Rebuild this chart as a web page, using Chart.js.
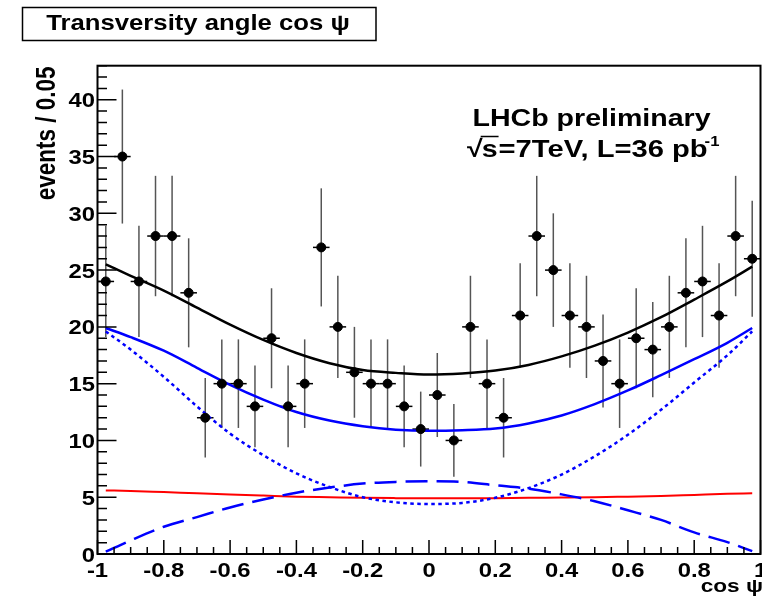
<!DOCTYPE html>
<html lang="en">
<head>
    <meta charset="UTF-8">
    <title>Transversity angle cos psi</title>
    <script src="https://cdn.jsdelivr.net/npm/chart.js"></script>
    <style>
        html, body { margin: 0; padding: 0; overflow: hidden; background: #fff; }
        canvas { display: block; }
    </style>
</head>
<body>
    <canvas id="psiChart" width="766" height="601"></canvas>

    <script>
        // Binned data: bin centres (width 0.05), event counts and their errors
        const binCenters = [-0.975, -0.925, -0.875, -0.825, -0.775, -0.725, -0.675, -0.625, -0.575, -0.525,
                            -0.475, -0.425, -0.375, -0.325, -0.275, -0.225, -0.175, -0.125, -0.075, -0.025,
                             0.025,  0.075,  0.125,  0.175,  0.225,  0.275,  0.325,  0.375,  0.425,  0.475,
                             0.525,  0.575,  0.625,  0.675,  0.725,  0.775,  0.825,  0.875,  0.925,  0.975];
        const counts = [24, 35, 24, 28, 28, 23, 12, 15, 15, 13,
                        19, 13, 15, 27, 20, 16, 15, 15, 13, 11,
                        14, 10, 20, 15, 12, 21, 28, 25, 21, 20,
                        17, 15, 19, 18, 20, 23, 24, 21, 28, 26];
        const countErrors = [4.9, 5.9, 4.9, 5.3, 5.3, 4.8, 3.5, 3.9, 3.9, 3.6,
                             4.4, 3.6, 3.9, 5.2, 4.5, 4.0, 3.9, 3.9, 3.6, 3.3,
                             3.7, 3.2, 4.5, 3.9, 3.5, 4.6, 5.3, 5.0, 4.6, 4.5,
                             4.1, 3.9, 4.4, 4.2, 4.5, 4.8, 4.9, 4.6, 5.3, 5.1];
        const binHalfWidth = 0.025;

        // Fit projections
        const curveX    = [-0.975, -0.9, -0.8, -0.7, -0.6, -0.5, -0.4, -0.3, -0.2, -0.1, 0, 0.1, 0.2, 0.3, 0.4, 0.5, 0.6, 0.7, 0.8, 0.9, 0.975];
        const totalFit  = [25.5, 24.5, 23.2, 21.7, 20.2, 18.85, 17.7, 16.8, 16.2, 15.95, 15.8, 15.9, 16.15, 16.65, 17.4, 18.35, 19.5, 20.85, 22.4, 24.0, 25.3];
        const signalFit = [19.9, 19.1, 17.9, 16.4, 14.9, 13.6, 12.5, 11.75, 11.25, 10.95, 10.85, 10.9, 11.05, 11.5, 12.2, 13.2, 14.4, 15.75, 17.15, 18.6, 19.9];
        const evenFit   = [19.6, 18.0, 15.6, 13.0, 10.6, 8.7, 7.1, 5.9, 5.0, 4.55, 4.4, 4.5, 4.95, 5.8, 7.0, 8.6, 10.5, 12.7, 15.1, 17.5, 19.6];
        const oddFit    = [0.2, 1.2, 2.4, 3.25, 4.1, 4.8, 5.4, 5.85, 6.2, 6.35, 6.4, 6.35, 6.05, 5.75, 5.25, 4.65, 3.85, 3.0, 1.9, 1.05, 0.25];
        const bkgFit    = [5.6, 5.55, 5.45, 5.35, 5.25, 5.15, 5.05, 5.0, 4.95, 4.92, 4.9, 4.9, 4.92, 4.95, 4.97, 5.0, 5.05, 5.1, 5.2, 5.3, 5.35];

        // Axis ticks and labels
        const xTickValues = [-1, -0.8, -0.6, -0.4, -0.2, 0, 0.2, 0.4, 0.6, 0.8, 1];
        const xTickLabels = ['-1', '-0.8', '-0.6', '-0.4', '-0.2', '0', '0.2', '0.4', '0.6', '0.8', '1'];
        const yTickValues = [0, 5, 10, 15, 20, 25, 30, 35, 40];
        const yTickLabels = ['0', '5', '10', '15', '20', '25', '30', '35', '40'];

        const FONT = '"Liberation Sans", Arial, Helvetica, sans-serif';
        const SX = 1.19; // text in the reference is stretched sideways

        function pairs(xs, ys) {
            return xs.map((x, i) => ({ x: x, y: ys[i] }));
        }

        function stretchedText(ctx, str, x, y, size, align) {
            ctx.save();
            ctx.translate(x, y);
            ctx.scale(SX, 1);
            ctx.font = 'bold ' + size + 'px ' + FONT;
            ctx.textAlign = align;
            ctx.textBaseline = 'alphabetic';
            ctx.fillText(str, 0, 0);
            ctx.restore();
        }

        function textWidth(ctx, str, size) {
            ctx.font = 'bold ' + size + 'px ' + FONT;
            return ctx.measureText(str).width * SX;
        }

        // Error bars under the markers
        const errorBarPlugin = {
            id: 'errorBars',
            beforeDatasetsDraw(chart) {
                const ctx = chart.ctx;
                const xs = chart.scales.x, ys = chart.scales.y;
                ctx.save();
                binCenters.forEach((c, i) => {
                    const px = xs.getPixelForValue(c);
                    const py = ys.getPixelForValue(counts[i]);
                    ctx.strokeStyle = '#555';
                    ctx.lineWidth = 1.5;
                    ctx.beginPath();
                    ctx.moveTo(px, ys.getPixelForValue(counts[i] + countErrors[i]));
                    ctx.lineTo(px, ys.getPixelForValue(counts[i] - countErrors[i]));
                    ctx.stroke();
                    ctx.strokeStyle = '#000';
                    ctx.beginPath();
                    ctx.moveTo(xs.getPixelForValue(c - binHalfWidth), py);
                    ctx.lineTo(xs.getPixelForValue(c + binHalfWidth), py);
                    ctx.stroke();
                });
                ctx.restore();
            }
        };

        // ROOT-like frame, inward ticks and all the text
        const framePlugin = {
            id: 'rootFrame',
            afterDraw(chart) {
                const ctx = chart.ctx;
                const area = chart.chartArea;
                const xs = chart.scales.x, ys = chart.scales.y;
                ctx.save();

                ctx.strokeStyle = '#000';
                ctx.lineWidth = 2;
                ctx.strokeRect(area.left, area.top, area.right - area.left, area.bottom - area.top);

                // y ticks
                ctx.lineWidth = 1.5;
                ctx.beginPath();
                for (let v = 0; v <= 43; v++) {
                    const py = ys.getPixelForValue(v);
                    const len = v % 5 === 0 ? 19 : 9.5;
                    ctx.moveTo(area.left, py);
                    ctx.lineTo(area.left + len, py);
                }
                // x ticks
                for (let k = -20; k <= 20; k++) {
                    const px = xs.getPixelForValue(k * 0.05);
                    const len = k % 4 === 0 ? 14 : 7;
                    ctx.moveTo(px, area.bottom);
                    ctx.lineTo(px, area.bottom - len);
                }
                ctx.stroke();

                ctx.fillStyle = '#000';
                yTickValues.forEach((v, i) => {
                    stretchedText(ctx, yTickLabels[i], 95, ys.getPixelForValue(v) + 7.5, 20, 'right');
                });
                xTickValues.forEach((v, i) => {
                    stretchedText(ctx, xTickLabels[i], xs.getPixelForValue(v), 577, 20, 'center');
                });

                // axis titles
                stretchedText(ctx, 'cos \u03C8', 763, 592, 19, 'right');
                ctx.save();
                ctx.translate(55, 66.5);
                ctx.rotate(-Math.PI / 2);
                ctx.scale(1, SX);
                ctx.font = 'bold 22.5px ' + FONT;
                ctx.textAlign = 'right';
                ctx.fillText('events / 0.05', 0, 0);
                ctx.restore();

                // title box
                ctx.lineWidth = 1.5;
                ctx.strokeRect(22.5, 7.5, 353.5, 33);
                stretchedText(ctx, 'Transversity angle cos \u03C8', 198, 29.5, 21.6, 'center');

                // LHCb label
                stretchedText(ctx, 'LHCb preliminary', 472.5, 125.5, 24, 'left');
                let x = 467;
                const base = 156.5;
                stretchedText(ctx, '\u221A', x, base, 24, 'left');
                x += textWidth(ctx, '\u221A', 24) - 1;
                const sw = textWidth(ctx, 's', 24);
                ctx.lineWidth = 1.5;
                ctx.beginPath();
                ctx.moveTo(x - 1, base - 20);
                ctx.lineTo(x + sw + 1, base - 20);
                ctx.stroke();
                stretchedText(ctx, 's', x, base, 24, 'left');
                x += sw + 1;
                const rest = '=7TeV, L=36 pb';
                stretchedText(ctx, rest, x, base, 24.5, 'left');
                x += textWidth(ctx, rest, 24.5);
                stretchedText(ctx, '-1', x - 3, base - 11, 14, 'left');

                ctx.restore();
            }
        };

        const curveStyle = (color, width, dash) => ({
            type: 'line',
            fill: false,
            borderColor: color,
            borderWidth: width,
            borderDash: dash,
            pointRadius: 0,
            cubicInterpolationMode: 'monotone'
        });

        new Chart(document.getElementById('psiChart').getContext('2d'), {
            type: 'scatter',
            data: {
                datasets: [
                    {
                        label: 'data',
                        data: pairs(binCenters, counts),
                        backgroundColor: '#000',
                        borderColor: '#000',
                        pointRadius: 4.5,
                        showLine: false
                    },
                    Object.assign({ label: 'total fit', data: pairs(curveX, totalFit) }, curveStyle('#000', 2.5, [])),
                    Object.assign({ label: 'signal', data: pairs(curveX, signalFit) }, curveStyle('#0000ff', 2.5, [])),
                    Object.assign({ label: 'CP even', data: pairs(curveX, evenFit) }, curveStyle('#0000ff', 2.5, [3.5, 3.5])),
                    Object.assign({ label: 'CP odd', data: pairs(curveX, oddFit) }, curveStyle('#0000ff', 2.5, [22, 9])),
                    Object.assign({ label: 'background', data: pairs(curveX, bkgFit) }, curveStyle('#ff0000', 2, []))
                ]
            },
            options: {
                responsive: false,
                animation: false,
                devicePixelRatio: 1,
                events: [],
                layout: { padding: { left: 97.5, right: 2.7, top: 65.7, bottom: 47 } },
                plugins: { legend: { display: false }, tooltip: { enabled: false } },
                scales: {
                    x: { type: 'linear', min: -1, max: 1, display: false },
                    y: { type: 'linear', min: 0, max: 43, display: false }
                }
            },
            plugins: [errorBarPlugin, framePlugin]
        });
    </script>
</body>
</html>
